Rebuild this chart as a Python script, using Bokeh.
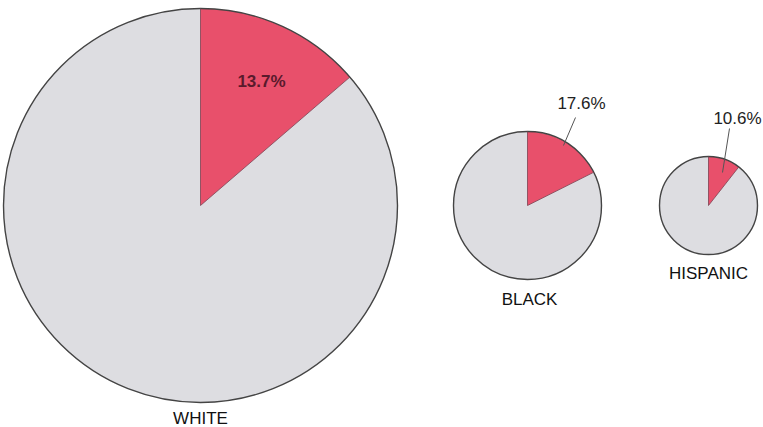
import math
from bokeh.plotting import figure
from bokeh.models import Range1d
from bokeh.core.properties import value
from bokeh.embed import file_html
from bokeh.resources import INLINE

groups = ["WHITE", "BLACK", "HISPANIC"]
pct = [13.7, 17.6, 10.6]
pct_labels = ["13.7%", "17.6%", "10.6%"]

# layout (pixel coordinates, y measured from top of image)
cx = [200, 527, 708]
cy = [205, 205, 205]
rad = [197, 74, 49]
name_xy = [(200, 418), (529, 299), (708, 273)]
pct_xy = [(261, 81), (581, 103), (737, 118)]
leaders = [None, ((563, 145), (575, 117)), ((722, 172), (729, 128))]

W, H = 763, 427
p = figure(width=W, height=H, x_range=Range1d(0, W), y_range=Range1d(0, H),
           output_backend="svg", toolbar_location=None, min_border=0)
p.axis.visible = False
p.grid.visible = False
p.outline_line_color = None
p.background_fill_color = "white"

PINK = "#E8506B"
GRAY = "#DDDDE1"
EDGE = "#444444"

for i in range(3):
    x, y, r = cx[i], H - cy[i], rad[i]
    a = 2 * math.pi * pct[i] / 100.0
    start = math.pi / 2 - a
    p.wedge(x=[x], y=[y], radius=r, start_angle=[math.pi / 2], end_angle=[start + 2 * math.pi],
            fill_color=GRAY, line_color=None)
    p.wedge(x=[x], y=[y], radius=r, start_angle=[start], end_angle=[math.pi / 2],
            fill_color=PINK, line_color=None)
    p.circle(x=[x], y=[y], radius=r, fill_color=None, line_color=EDGE, line_width=1.4)
    p.segment(x0=[x, x], y0=[y, y], x1=[x, x + r * math.cos(start)],
              y1=[y + r, y + r * math.sin(start)], line_color="#7a4050", line_width=0.8)

for i in range(3):
    nx, ny = name_xy[i]
    p.text(x=[nx], y=[H - ny], text=[groups[i]], text_align="center", text_baseline="middle",
           text_font=value("Liberation Sans"), text_font_size="17px", text_color="#111111")
    px_, py_ = pct_xy[i]
    p.text(x=[px_], y=[H - py_], text=[pct_labels[i]], text_align="center", text_baseline="middle",
           text_font=value("Liberation Sans"), text_font_size="17px",
           text_font_style="bold" if i == 0 else "normal",
           text_color="#5a1a2c" if i == 0 else "#222222")
    if leaders[i]:
        (x0, y0), (x1, y1) = leaders[i]
        p.segment(x0=[x0], y0=[H - y0], x1=[x1], y1=[H - y1], line_color="#555555", line_width=1)

open("out.html", "w").write(file_html(p, INLINE))
